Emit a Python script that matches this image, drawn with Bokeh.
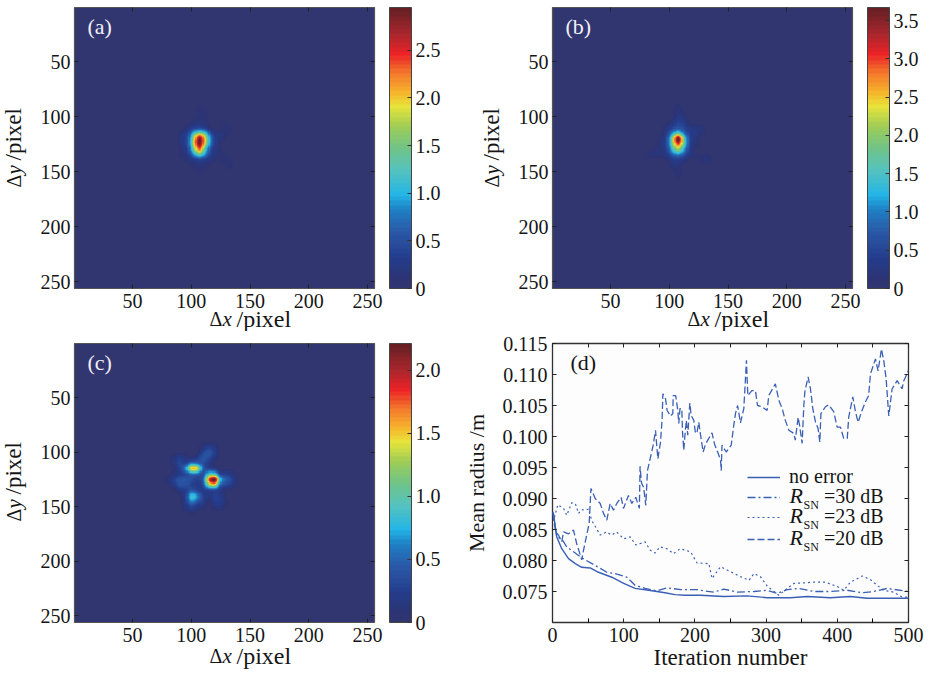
import numpy as np
from bokeh.embed import file_html
from bokeh.resources import INLINE
from bokeh.plotting import figure
from bokeh.layouts import column, row
from bokeh.models import (LinearColorMapper, ColorBar, FixedTicker, LinearAxis, Label, Range1d,
                          Legend, LegendItem, NumeralTickFormatter)

FONT = "Liberation Serif"
CM_STOPS = [(0.00, (50, 54, 112)), (0.03, (44, 52, 116)), (0.10, (36, 60, 140)), (0.20, (42, 90, 168)),
            (0.28, (30, 130, 198)), (0.33, (35, 181, 230)), (0.42, (85, 195, 190)), (0.50, (112, 195, 135)),
            (0.58, (160, 205, 85)), (0.65, (232, 228, 58)), (0.70, (246, 180, 44)), (0.77, (244, 120, 44)),
            (0.84, (236, 34, 39)), (0.91, (170, 38, 44)), (1.00, (104, 32, 36))]
pos = [s[0] for s in CM_STOPS]
PALETTE = []
for i in range(64):
    t = i / 63
    rgb = [int(round(np.interp(t, pos, [s[1][k] for s in CM_STOPS]))) for k in range(3)]
    PALETTE.append("#%02x%02x%02x" % tuple(rgb))

# heat maps: percent of panel maximum, sampled on 5-pixel cells
GRID_A = [
 [0]*17, [0]*17, [0]*17,
 [0,0,0,0,0,0,0,0,3,0,0,0,0,0,0,0,0],
 [0,0,0,0,0,0,0,0,5,4,0,0,0,0,0,0,0],
 [0,0,0,0,0,0,0,0,4,3,0,0,0,0,0,0,0],
 [0,0,0,0,0,0,0,4,6,4,0,0,3,0,0,0,0],
 [0,0,0,0,0,0,5,8,10,6,0,0,3,5,0,0,0],
 [0,0,0,0,0,6,10,35,50,38,10,6,5,3,0,0,0],
 [0,0,0,0,0,8,14,55,100,60,20,6,5,0,0,0,0],
 [0,0,0,0,0,7,14,58,100,55,18,5,0,0,0,0,0],
 [0,0,0,0,0,4,10,45,80,35,10,6,0,0,0,0,0],
 [0,0,0,0,0,5,6,25,45,25,8,5,4,0,0,0,0],
 [0,0,0,0,0,0,5,6,8,6,5,0,4,5,0,0,0],
 [0,0,0,0,0,0,0,4,5,4,0,0,0,5,0,0,0],
 [0,0,0,0,0,0,0,0,4,0,0,0,0,0,0,0,0],
 [0,0,0,0,0,0,0,0,3,0,0,0,0,0,0,0,0],
 [0]*17, [0]*17,
]
GRID_B = [
 [0]*17, [0]*17, [0]*17,
 [0,0,0,0,0,0,0,0,4,0,0,0,0,0,0,0,0],
 [0,0,0,0,0,0,0,0,7,0,0,0,0,0,0,0,0],
 [0,0,0,0,0,0,0,0,8,5,0,0,0,0,0,0,0],
 [0,0,0,0,0,0,0,6,12,8,0,0,0,0,0,0,0],
 [0,0,0,0,0,0,6,10,14,12,6,6,5,0,0,0,0],
 [0,0,0,0,0,0,8,25,44,18,9,7,4,0,0,0,0],
 [0,0,0,0,0,4,10,45,100,40,8,5,0,0,0,0,0],
 [0,0,0,0,0,5,10,42,72,38,8,4,0,0,0,0,0],
 [0,0,0,0,4,5,8,30,50,25,7,0,0,0,0,0,0],
 [0,0,0,4,5,4,6,14,20,12,5,3,3,4,0,0,0],
 [0,0,0,0,0,0,0,7,8,4,0,0,4,5,0,0,0],
 [0,0,0,0,0,0,0,5,4,0,0,0,0,0,0,0,0],
 [0,0,0,0,0,0,0,0,5,0,0,0,0,0,0,0,0],
 [0,0,0,0,0,0,0,0,4,0,0,0,0,0,0,0,0],
 [0]*17, [0]*17,
]
GRID_C = [
 [0]*17, [0]*17, [0]*17,
 [0,0,0,0,0,0,0,0,0,5,10,6,0,0,0,0,0],
 [0,0,0,0,0,0,0,0,0,12,18,10,0,0,0,0,0],
 [0,0,0,0,5,10,5,0,6,18,14,6,0,0,0,0,0],
 [0,0,0,0,6,13,8,24,18,14,6,0,0,0,0,0,0],
 [0,0,0,0,0,10,24,70,65,16,8,6,0,0,0,0,0],
 [0,0,0,0,5,8,10,16,16,10,40,36,8,10,6,0,0],
 [0,0,0,6,10,17,17,14,8,15,80,100,28,18,12,0,0],
 [0,0,0,0,8,15,15,10,8,10,48,52,12,12,6,0,0],
 [0,0,0,0,0,6,8,16,10,7,8,8,6,0,0,0,0],
 [0,0,0,0,0,0,8,40,28,10,5,12,8,0,0,0,0],
 [0,0,0,0,0,0,8,25,15,10,0,10,10,4,0,0,0],
 [0,0,0,0,0,0,6,12,6,5,0,6,6,0,0,0,0],
 [0,0,0,0,0,0,0,5,0,0,0,0,0,0,0,0,0],
 [0]*17, [0]*17, [0]*17,
]
MAX_A, MAX_B, MAX_C = 2.95, 3.67, 2.21
TICKS_A = [0, 0.5, 1.0, 1.5, 2.0, 2.5]
TICKS_B = [0, 0.5, 1.0, 1.5, 2.0, 2.5, 3.0, 3.5]
TICKS_C = [0, 0.5, 1.0, 1.5, 2.0]
PIX_TICKS = [50, 100, 150, 200, 250]

# panel (d) series: iteration, mean radius
NOERR_X = [0,1.4,6,13,22.5,32,41,53,64.6,83.3,100,116,135,158,172,186,208,240.6,273,301.5,334,358,390,418,442,500]
NOERR_Y = [.0878,.0875,.0838,.0819,.0803,.0795,.0789,.0788,.0781,.0773,.0763,.0755,.0752,.0748,.0745,.0744,.0744,.0742,.0743,.0740,.0740,.0742,.0740,.0742,.0739,.0739]
DB30_X = [0,1.4,6,13,20,29.5,39,46,60,76.3,88,104.4,116,130,146.5,160.6,180,203,212.6,226.6,240.6,259.4,283,301.5,315.5,329.6,346,367,390,414,435,451,470,500]
DB30_Y = [.0878,.0875,.0838,.0835,.0822,.0814,.0806,.0801,.0792,.0781,.0779,.0773,.0760,.0755,.0751,.0756,.0753,.0753,.0751,.0749,.0754,.0749,.0750,.0752,.0747,.0753,.0755,.0750,.0750,.0752,.0748,.0750,.0755,.0750]
DB23_X = [0,2.8,7.5,15.5,20,27,32,36.5,41,46,50.6,55,62,67,76,83,90,100,109,117,130,137,144,151,160.5,170,179.3,194,203,219.6,224,236,250,264,276,283,292,302,318,329.6,339,353,367,383,400,409,418.5,435,446.6,456,465,479,491,500]
DB23_Y = [.0878,.0870,.0890,.0884,.0873,.0893,.0892,.0876,.0882,.0881,.0883,.0865,.0851,.0841,.0846,.0841,.0846,.0835,.0838,.0825,.0830,.0817,.0812,.0822,.0819,.0811,.0819,.0814,.0796,.0795,.0771,.0790,.0782,.0774,.0768,.0779,.0774,.0758,.0744,.0755,.0763,.0764,.0765,.0765,.0758,.0752,.0765,.0775,.0769,.0760,.0752,.0749,.0741,.0741]
DB20_X = [0,4.7,8.4,13,15.5,22.5,29.5,34,39,41,43.5,48,51.5,54,60,67,71.6,76.3,81,85.7,90.3,96.4,99.7,106.7,111.4,117,122,123,125,128,131,133.4,136.7,141.4,144.7,146,148,151.7,154,155,158.7,161,165.7,169,169.5,173,176,177.4,179,181.6,182.6,184.4,186,188,190,192.9,194.7,198.5,200.8,203,205.5,208,211.6,215,219.5,224,227.5,232,236,237,238,244,251,254.6,257,260,264,268.7,271,272.4,274.3,280,285,288,294.4,301.4,303.8,313,318,322.6,327,332,339,341,345,347,350.6,353,354.4,359,362.3,365.6,369.4,373,375.4,377,383.4,388,395,399.8,404.5,409,414,416,421.8,425.5,429.3,434,439.6,444,446.6,453.6,457.3,462,465.3,468.6,472.3,477,484,491,493.4,498,499.5]
DB20_Y = [.0875,.0846,.0841,.0830,.0846,.0843,.0849,.0827,.0809,.0801,.0816,.0841,.0860,.0916,.0900,.0892,.0876,.0865,.0892,.0881,.0892,.0902,.0884,.0905,.0892,.0902,.0884,.0952,.0925,.0918,.0889,.0945,.0962,.0986,.1010,.0991,.0964,.0991,.1029,.1069,.1061,.1042,.1033,.1037,.1066,.1066,.1042,.1021,.1045,.1045,.1007,.0978,.1002,.1026,.1002,.1054,.1034,.1026,.1005,.1007,.1023,.1002,.0975,.0988,.0997,.1006,.0988,.0975,.0962,.0945,.0986,.0975,.0986,.1018,.1037,.1050,.1022,.1045,.1093,.1123,.1066,.1074,.1074,.1050,.1048,.1042,.1066,.1085,.1058,.1045,.1026,.1010,.1005,.0994,.1031,.1018,.0989,.1050,.1072,.1096,.1077,.1045,.1023,.1013,.0991,.1037,.1048,.1051,.1040,.1015,.1015,.0997,.0997,.1031,.1064,.1040,.1023,.1040,.1056,.1066,.1101,.1125,.1106,.1141,.1122,.1093,.1033,.1077,.1090,.1077,.1090,.1101,.1106]

BLUE = "#3a5fb5"
TEXT = "#151515"


def piece(p, x, y, text, size=20, style="normal", angle=0.0, color=TEXT):
    p.add_layout(Label(x=x, y=y, x_units="screen", y_units="screen", text=text, text_font=FONT,
                       text_font_size=f"{size}px", text_font_style=style, text_color=color,
                       angle=angle, text_baseline="alphabetic", text_align="left"))


def strip(w, h, margin=(0, 0, 0, 0)):
    s = figure(width=w, height=h, output_backend="svg", toolbar_location=None,
               x_range=Range1d(0, 1), y_range=Range1d(0, 1), x_axis_location=None, y_axis_location=None,
               min_border_left=0, min_border_right=0, min_border_top=0, min_border_bottom=0,
               background_fill_color=None, border_fill_color=None, outline_line_color=None, margin=margin)
    s.grid.visible = False
    return s


def x_title(w, h, yy):
    s = strip(w, h, margin=(-16, 0, 0, 0))
    piece(s, 135, yy, "\u0394", 20)
    piece(s, 148, yy, "x", 21, "italic")
    piece(s, 162, yy, "/pixel", 24)
    return s


def y_title(w, h, bx, start):
    s = strip(w, h)
    a90 = np.pi / 2
    piece(s, bx, start, "\u0394", 20, angle=a90)
    piece(s, bx, start + 13, "y", 21, "italic", angle=a90)
    piece(s, bx, start + 27, "/pixel", 23, angle=a90)
    return s


def style_axis(ax):
    ax.axis_line_color = None
    ax.major_tick_in = 4
    ax.major_tick_out = 0
    ax.minor_tick_in = 0
    ax.minor_tick_out = 0
    ax.major_tick_line_color = "#222222"
    ax.major_tick_line_width = 1
    ax.major_label_text_font = FONT
    ax.major_label_text_font_size = "20px"
    ax.major_label_text_color = TEXT


def hidden_axis(p, side, ticks, minor=None):
    ax = LinearAxis(ticker=FixedTicker(ticks=ticks, minor_ticks=minor or []))
    style_axis(ax)
    ax.major_label_overrides = {t: "" for t in ticks}
    ax.major_label_text_font_size = "1px"
    ax.major_label_standoff = 0
    p.add_layout(ax, side)
    return ax


def soften(grid, vmax):
    coarse = np.array(grid, dtype=float)
    ny, nx = coarse.shape
    fx = np.arange(0, nx - 1 + 1e-9, 0.2)
    fy = np.arange(0, ny - 1 + 1e-9, 0.2)
    tmp = np.array([np.interp(fx, np.arange(nx), r) for r in coarse])
    arr = np.array([np.interp(fy, np.arange(ny), c) for c in tmp.T]).T
    box = np.ones(3) / 3
    for _ in range(2):
        arr = np.apply_along_axis(lambda v: np.convolve(v, box, mode="same"), 0, arr)
        arr = np.apply_along_axis(lambda v: np.convolve(v, box, mode="same"), 1, arr)
    return arr * vmax / arr.max()


def heat(grid, vmax, ticks, tag, w, h, left, right, top, bottom, frame_h, x0, y0):
    p = figure(width=w, height=h, frame_width=300, frame_height=frame_h, output_backend="svg",
               toolbar_location=None, x_range=Range1d(0.5, 256), y_range=Range1d(256, 0.5),
               min_border_left=left, min_border_right=right, min_border_top=top, min_border_bottom=bottom,
               background_fill_color=PALETTE[0], border_fill_color="white")
    p.grid.visible = False
    p.outline_line_color = "#555555"
    p.outline_line_width = 1.2
    mapper = LinearColorMapper(palette=PALETTE, low=0, high=vmax)
    arr = soften(grid, vmax)
    ny, nx = np.array(grid).shape
    p.image(image=[arr], x=x0 - 0.5, y=y0 - 0.5, dw=(nx - 1) * 5 + 1, dh=(ny - 1) * 5 + 1, color_mapper=mapper)
    for ax in (p.xaxis[0], p.yaxis[0]):
        style_axis(ax)
        ax.ticker = FixedTicker(ticks=PIX_TICKS)
    p.yaxis[0].major_label_standoff = 4
    hidden_axis(p, "above", PIX_TICKS)
    hidden_axis(p, "right", PIX_TICKS)
    cb = ColorBar(color_mapper=mapper, ticker=FixedTicker(ticks=ticks), width=22, height=frame_h,
                  location=(15, 0), margin=0, padding=0, bar_line_color="#444444", bar_line_width=1,
                  major_tick_line_color="#333333", major_tick_in=4, minor_tick_line_color=None,
                  major_label_text_font=FONT, major_label_text_font_size="20px", major_label_text_color=TEXT,
                  label_standoff=4, background_fill_color=None, border_line_color=None)
    cb.major_label_overrides = {t: ("0" if t == 0 else f"{t:.1f}") for t in ticks}
    p.add_layout(cb, "right")
    piece(p, 13, frame_h - 19, tag, 22, color="#f0f0f5")
    return p


a = heat(GRID_A, MAX_A, TICKS_A, "(a)", 434, 318, 38, 96, 7, 30, 281, 67, 74.5)
b = heat(GRID_B, MAX_B, TICKS_B, "(b)", 415, 318, 38, 77, 7, 30, 281, 67.5, 75)
c = heat(GRID_C, MAX_C, TICKS_C, "(c)", 422, 321, 38, 84, 12, 30, 279, 65, 80)

d = figure(width=471, height=342, frame_width=356, frame_height=279, output_backend="svg",
           toolbar_location=None, x_range=Range1d(0, 500), y_range=Range1d(0.070, 0.115),
           min_border_left=94, min_border_right=21, min_border_top=12, min_border_bottom=51,
           background_fill_color="#fdfdfd", border_fill_color="white")
d.grid.visible = False
d.outline_line_color = "#333333"
d.outline_line_width = 1.3
r0 = d.line(NOERR_X, NOERR_Y, line_color=BLUE, line_width=1.4)
r1 = d.line(DB30_X, DB30_Y, line_color=BLUE, line_width=1.3, line_dash="8 3 2 3")
r2 = d.line(DB23_X, DB23_Y, line_color=BLUE, line_width=1.2, line_dash="2 3")
r3 = d.line(DB20_X, DB20_Y, line_color=BLUE, line_width=1.3, line_dash="7 3")
XT = [0, 100, 200, 300, 400, 500]
XM = [50, 150, 250, 350, 450]
YT = [0.075, 0.080, 0.085, 0.090, 0.095, 0.100, 0.105, 0.110, 0.115]
style_axis(d.xaxis[0])
d.xaxis[0].ticker = FixedTicker(ticks=XT, minor_ticks=XM)
d.xaxis[0].minor_tick_in = 4
d.xaxis[0].axis_label = "Iteration number"
d.xaxis[0].axis_label_text_font = FONT
d.xaxis[0].axis_label_text_font_style = "normal"
d.xaxis[0].axis_label_text_font_size = "23px"
d.xaxis[0].axis_label_text_color = TEXT
d.xaxis[0].axis_label_standoff = 0
style_axis(d.yaxis[0])
d.yaxis[0].ticker = FixedTicker(ticks=YT)
d.yaxis[0].formatter = NumeralTickFormatter(format="0.000")
d.yaxis[0].axis_label = "Mean radius /m"
d.yaxis[0].axis_label_text_font = FONT
d.yaxis[0].axis_label_text_font_style = "normal"
d.yaxis[0].axis_label_text_font_size = "22px"
d.yaxis[0].axis_label_text_color = TEXT
d.yaxis[0].axis_label_standoff = 11
hidden_axis(d, "above", XT + XM)
hidden_axis(d, "right", YT)
nb = "\u00a0" * 7
for label, rend, ly in (("no error", r0, 134), (nb + "=30 dB", r1, 114), (nb + "=23 dB", r2, 94), (nb + "=20 dB", r3, 72)):
    legend = Legend(items=[LegendItem(label=label, renderers=[rend])],
                    location=(195, ly), orientation="vertical", background_fill_alpha=0, border_line_color=None,
                    margin=0, padding=0, spacing=0, glyph_width=33, glyph_height=20, label_height=20,
                    label_standoff=9, label_text_font=FONT, label_text_font_size="20px", label_text_color=TEXT)
    d.add_layout(legend, "center")
for yy in (127, 107, 85):
    piece(d, 237, yy, "R", 22, "italic")
    piece(d, 251, yy - 9, "SN", 12)
piece(d, 18, 260, "(d)", 22)

top_row = row(y_title(36, 331, 13, 144), column(a, x_title(434, 29, 13), spacing=0), y_title(44, 331, 21, 144),
              column(b, x_title(415, 29, 13), spacing=0), spacing=0)
bot_row = row(y_title(36, 342, 13, 101), column(c, x_title(422, 37, 18), spacing=0), d, spacing=0)
page = column(top_row, bot_row, spacing=0)
open("out.html", "w").write(file_html(page, INLINE))
